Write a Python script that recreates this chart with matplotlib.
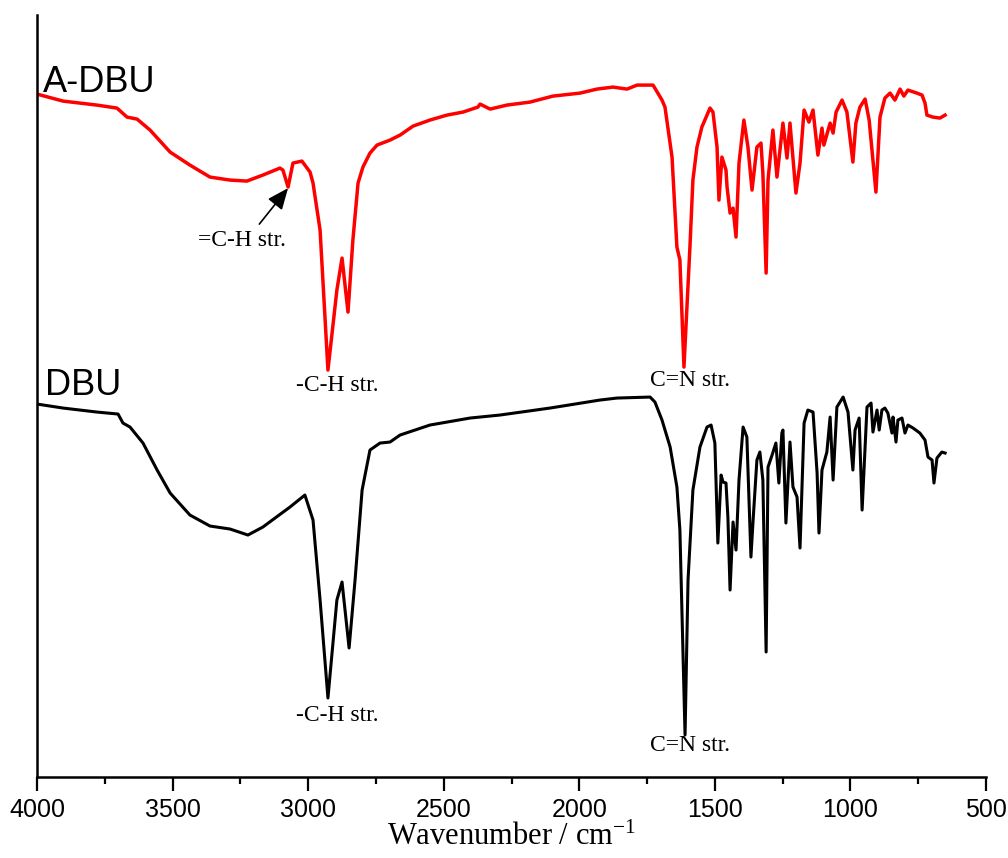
import numpy as np
import matplotlib
matplotlib.use("Agg")
import matplotlib.pyplot as plt

plt.rcParams["mathtext.fontset"] = "custom"
plt.rcParams["mathtext.rm"] = "Liberation Serif"
plt.rcParams["mathtext.it"] = "Liberation Serif:italic"

# FTIR spectra, offset transmittance (a.u.)
wn_adbu = [4000, 3904, 3779, 3705, 3668, 3631, 3583, 3509, 3436, 3362, 3288, 3226, 3167, 3104,
           3093, 3074, 3056, 3023, 2993, 2982, 2956, 2927, 2894, 2875, 2853, 2835, 2816, 2798,
           2772, 2746, 2698, 2661, 2613, 2551, 2488, 2429, 2374, 2366, 2329, 2267, 2182, 2097,
           1997, 1935, 1876, 1824, 1787, 1728, 1695, 1684, 1658, 1640, 1629, 1614, 1592, 1581,
           1566, 1548, 1518, 1507, 1492, 1485, 1474, 1459, 1455, 1444, 1433, 1422, 1411, 1393,
           1378, 1363, 1345, 1330, 1323, 1311, 1304, 1286, 1271, 1249, 1234, 1223, 1201, 1186,
           1171, 1153, 1138, 1120, 1105, 1098, 1075, 1064, 1053, 1031, 1013, 991, 980, 965,
           946, 931, 906, 891, 873, 854, 836, 817, 803, 788, 755, 736, 725, 718, 696, 670, 651]
t_adbu = [683, 676, 672, 669, 660, 658, 647, 625, 612, 600, 597, 596, 602, 609,
          607, 590, 614, 616, 605, 594, 547, 407, 487, 519, 465, 537, 594, 610,
          624, 632, 637, 642, 651, 657, 662, 665, 670, 673, 668, 672, 675, 681,
          684, 688, 690, 688, 692, 692, 677, 670, 620, 530, 517, 410, 530, 597,
          630, 650, 669, 665, 630, 577, 620, 607, 590, 564, 569, 540, 614, 657,
          630, 587, 630, 634, 604, 504, 597, 647, 600, 654, 619, 654, 584, 614,
          667, 655, 667, 622, 649, 632, 654, 644, 665, 677, 665, 615, 654, 670,
          678, 657, 585, 660, 679, 684, 677, 688, 681, 687, 684, 682, 674, 662, 660, 659, 662]

wn_dbu = [4000, 3904, 3779, 3701, 3683, 3657, 3609, 3557, 3509, 3436, 3362, 3288, 3222, 3167,
          3067, 3012, 2982, 2956, 2927, 2894, 2875, 2849, 2827, 2801, 2772, 2735, 2698, 2661,
          2551, 2403, 2293, 2108, 1924, 1861, 1739, 1721, 1695, 1665, 1640, 1629, 1610, 1599,
          1581, 1555, 1529, 1514, 1500, 1489, 1477, 1470, 1459, 1452, 1444, 1433, 1422, 1411,
          1396, 1382, 1367, 1359, 1345, 1334, 1323, 1311, 1304, 1289, 1275, 1264, 1253, 1249,
          1238, 1223, 1212, 1197, 1186, 1171, 1157, 1138, 1123, 1116, 1105, 1087, 1075, 1064,
          1050, 1027, 1009, 991, 983, 968, 957, 939, 924, 917, 902, 894, 884, 873, 862, 847,
          843, 832, 825, 810, 799, 788, 769, 744, 725, 714, 699, 692, 681, 663, 651]
t_dbu = [373, 369, 365, 363, 354, 350, 334, 307, 284, 262, 251, 248, 242, 250,
         270, 282, 257, 177, 79, 177, 195, 129, 197, 287, 327, 334, 335, 342,
         352, 359, 362, 369, 377, 379, 380, 375, 357, 330, 290, 247, 42, 197,
         287, 330, 350, 352, 334, 234, 302, 295, 294, 260, 187, 255, 227, 297,
         350, 340, 220, 257, 317, 325, 297, 125, 310, 322, 334, 294, 344, 347,
         254, 335, 290, 280, 229, 354, 367, 365, 304, 244, 307, 325, 360, 297,
         370, 380, 365, 307, 347, 359, 267, 370, 374, 345, 367, 347, 367, 369, 364, 344,
         360, 335, 357, 359, 344, 352, 349, 344, 337, 320, 317, 294, 319, 325, 324]

fig = plt.figure(figsize=(10.08, 8.58), dpi=100)
ax = fig.add_axes([0.0367, 0.0944, 0.9415, 0.888])

ax.plot(wn_adbu, t_adbu, color="red", lw=2.5, solid_joinstyle="round")
ax.plot(wn_dbu, t_dbu, color="black", lw=2.2, solid_joinstyle="round")

ax.set_xlim(4000, 500)
ax.set_ylim(0, 762)
ax.set_xticks(np.arange(4000, 499, -500))
ax.set_xticks(np.arange(3750, 500, -500), minor=True)
ax.set_yticks([])
for side in ("top", "right"):
    ax.spines[side].set_visible(False)
for side in ("left", "bottom"):
    ax.spines[side].set_linewidth(1.8)
ax.tick_params(axis="x", which="major", direction="out", length=10, width=1.6,
               labelsize=18, pad=5)
ax.tick_params(axis="x", which="minor", direction="out", length=5, width=1.6)
for lab in ax.get_xticklabels():
    lab.set_family("Liberation Sans")

ax.set_xlabel("Wavenumber / cm$^{-1}$", family="Liberation Serif", fontsize=22, labelpad=1)

sans = dict(family="Liberation Sans", fontsize=26, va="baseline", ha="left")
ax.text(3978, 685, "A-DBU", **sans)
ax.text(3970, 382, "DBU", **sans)

serif = dict(family="Liberation Serif", fontsize=17, ha="center", va="center")
ax.text(3244, 537, "=C-H str.", **serif)
ax.text(2894, 392, "-C-H str.", **serif)
ax.text(1592, 397, "C=N str.", **serif)
ax.text(2894, 62, "-C-H str.", **serif)
ax.text(1592, 32, "C=N str.", **serif)
ax.annotate("", xy=(3074, 589), xytext=(3180, 553),
            arrowprops=dict(arrowstyle="-|>,head_length=1.3,head_width=0.55",
                            color="black", lw=1.2, shrinkA=0, shrinkB=0))

fig.savefig("out.png", dpi=100)
